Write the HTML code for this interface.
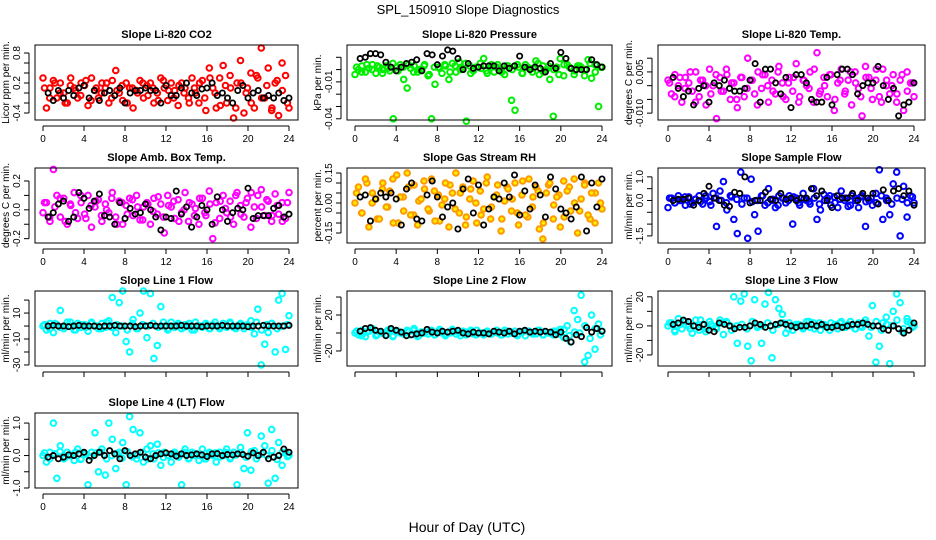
<!DOCTYPE html>
<html><head><meta charset="utf-8"><style>
body{margin:0;background:#fff;}
svg{display:block;font-family:"Liberation Sans",sans-serif;}
</style></head><body>
<svg id="chart" width="936" height="540" viewBox="0 0 936 540">
<rect width="936" height="540" fill="#fff"/>
<text x="468" y="14" text-anchor="middle" font-size="13">SPL_150910  Slope Diagnostics</text>
<text x="467" y="532" text-anchor="middle" font-size="14">Hour of Day (UTC)</text>
</svg>
<script>
const xTicks = [0,4,8,12,16,20,24];
const co2Color = [0.3,-0.3,0.1,0.25,-0.1,0.2,0.0,-0.2,0.3,0.1,-0.1,0.2,0.15,-0.25,0.3,0.05,-0.1,0.2,0.1,-0.2,0.25,0.45,0.0,-0.15,0.2,0.1,-0.3,0.05,0.25,-0.1,0.15,0.2,-0.2,0.0,0.3,0.1,-0.15,0.2,0.05,-0.25,0.2,0.1,-0.1,0.3,0.0,-0.2,0.25,-0.35,0.5,0.1,-0.3,0.3,0.55,-0.2,0.35,-0.5,0.2,0.65,-0.4,0.1,0.4,-0.3,0.3,0.9,-0.1,0.5,-0.35,0.2,-0.45,0.6,0.35,-0.3];
const co2Core = [0.1,-0.1,0.2,0.0,-0.2,0.15,0.05,-0.05,0.25,-0.15,0.1,0.0,0.2,-0.1,0.05,0.15,-0.2,0.1,0.0,0.2,-0.05,0.1,-0.15,0.25,0.05,-0.1,0.15,0.0,-0.2,0.1,0.2,-0.1,0.3,0.0,-0.25,0.15,0.1,-0.3,0.2,0.0,-0.2,0.35,-0.1,0.15,-0.3,0.25,0.05,-0.2];
const co2Black = [0.0,-0.15,0.05,-0.1,0.05,-0.05,0.1,0.15,-0.1,0.05,-0.15,0.0,0.05,-0.05,0.1,-0.2,0.0,0.05,0.05,0.1,0.05,0.05,-0.2,0.15,-0.05,-0.05,0.1,0.2,0.0,-0.05,0.08,0.1,0.2,-0.05,0.0,-0.1,-0.2,0.05,0.15,-0.1,0.0,0.05,-0.1,-0.05,-0.1,0.0,-0.15,-0.1];
const presColor = [-0.004,0.0,0.003,-0.002,0.001,0.004,-0.003,0.002,0.0,0.003,-0.001,-0.040,0.002,0.004,-0.008,-0.015,0.001,0.003,-0.002,0.0,0.004,-0.005,-0.040,-0.012,0.002,-0.003,0.003,-0.008,0.005,-0.002,0.006,0.001,-0.042,0.003,-0.001,0.002,0.005,0.009,-0.003,0.002,-0.002,0.004,0.000,-0.004,0.003,-0.025,-0.033,0.002,-0.003,0.004,0.001,-0.002,0.007,-0.004,0.003,0.000,-0.008,-0.038,0.002,0.009,-0.005,0.004,0.001,-0.004,0.003,0.002,-0.005,0.008,-0.007,0.004,-0.030,0.002];
const presCore = [0.002,-0.002,0.004,0.000,0.003,-0.003,0.001,0.005,-0.001,0.002,0.004,-0.002,0.000,0.003,-0.004,0.002,0.001,0.004,-0.002,0.003,0.000,0.005,-0.003,0.002,0.001,-0.001,0.004,0.002,-0.002,0.003,0.000,0.004,-0.003,0.002,0.001,0.005,-0.002,0.003,0.000,-0.004,0.004,0.002,-0.001,0.003,0.000,0.005,-0.002,0.002];
const presBlack = [0.009,0.010,0.013,0.013,0.012,0.006,0.002,-0.001,0.002,0.005,0.006,0.008,-0.001,0.013,0.012,0.004,0.011,0.016,0.015,0.009,0.000,0.005,0.001,0.002,0.003,0.003,0.003,-0.001,0.003,0.001,0.003,0.011,0.002,0.000,0.002,0.001,-0.002,0.005,0.001,0.014,0.009,0.001,0.000,0.000,0.000,0.008,0.004,0.002];
const tempColor = [0.002,-0.003,0.004,0.000,-0.006,0.003,0.001,-0.002,0.005,-0.004,0.002,-0.007,0.006,0.000,-0.012,0.003,-0.002,0.004,-0.005,0.001,-0.008,0.003,-0.004,0.010,0.002,-0.003,0.005,-0.001,0.004,-0.006,0.002,-0.003,0.007,0.001,-0.005,0.003,-0.002,0.008,-0.004,0.002,0.000,0.005,-0.006,0.012,-0.002,0.003,-0.004,0.004,-0.009,0.001,0.006,-0.003,0.002,-0.007,0.005,-0.001,-0.011,0.007,0.003,-0.005,0.002,-0.004,0.006,0.000,-0.003,0.004,-0.006,0.002,-0.009,0.005,0.001,-0.004];
const tempCore = [0.001,-0.004,0.003,-0.001,0.005,-0.006,0.002,0.000,-0.003,0.004,-0.002,0.006,0.001,-0.005,0.003,-0.001,0.002,-0.007,0.004,0.000,-0.002,0.005,-0.004,0.001,0.003,-0.006,0.002,-0.001,0.006,-0.003,0.000,0.004,-0.005,0.002,-0.002,0.005,0.001,-0.004,0.003,-0.001,0.006,-0.006,0.002,0.000,-0.003,0.004,-0.002,0.001];
const tempBlack = [0.003,-0.001,-0.004,-0.002,-0.007,-0.001,0.000,-0.006,0.001,0.000,0.002,-0.001,-0.002,-0.002,-0.001,0.002,0.008,-0.006,0.006,0.006,0.001,-0.003,0.003,-0.008,0.004,0.004,0.001,-0.005,-0.006,-0.006,0.003,-0.007,0.004,0.006,0.006,0.004,-0.003,0.000,0.001,0.001,0.007,0.000,-0.005,-0.001,-0.011,-0.007,-0.006,0.001];
const ambColor = [-0.02,0.05,-0.08,0.28,0.1,-0.05,0.08,-0.1,0.03,0.12,-0.06,0.05,-0.03,0.1,-0.12,0.02,0.07,-0.08,0.04,-0.02,0.12,-0.05,0.06,-0.1,0.03,0.08,-0.04,0.1,-0.07,0.02,0.05,-0.1,0.08,-0.03,0.04,-0.16,0.1,0.02,-0.06,0.07,-0.02,0.12,-0.08,0.04,0.01,-0.1,0.08,-0.04,0.13,-0.2,0.05,-0.06,0.1,-0.02,0.06,-0.1,0.12,0.03,-0.05,0.08,-0.12,0.02,0.1,0.14,-0.04,0.06,-0.08,0.11,-0.03,0.05,-0.06,0.12];
const ambCore = [0.05,-0.05,0.02,0.08,-0.08,0.04,-0.02,0.1,-0.06,0.03,0.06,-0.04,0.0,0.08,-0.1,0.05,-0.03,0.07,0.02,-0.07,0.04,-0.01,0.09,-0.05,0.03,0.06,-0.08,0.0,0.05,-0.04,0.08,-0.02,0.04,-0.09,0.06,0.01,-0.05,0.1,-0.03,0.05,0.12,-0.06,0.02,0.07,-0.04,0.03,-0.08,0.05];
const ambBlack = [-0.05,-0.02,0.04,0.06,-0.08,-0.05,0.12,0.08,0.01,0.06,0.11,-0.04,-0.05,-0.1,0.05,-0.06,0.01,-0.03,-0.02,0.04,0.0,-0.05,-0.14,-0.05,-0.06,0.13,-0.03,0.02,-0.12,-0.05,0.03,0.0,-0.1,0.09,0.0,-0.08,-0.02,0.01,0.0,0.15,-0.06,-0.04,-0.04,-0.04,0.01,0.03,-0.05,-0.03];
const rhColor = [0.0,0.08,-0.05,0.12,-0.12,0.05,0.02,-0.08,0.1,-0.02,0.06,-0.1,0.14,0.03,-0.04,0.15,-0.06,0.09,-0.11,0.02,0.07,-0.03,0.12,-0.09,0.04,-0.01,0.1,-0.12,0.05,0.15,-0.05,0.08,-0.07,0.02,0.11,-0.1,0.06,-0.03,0.13,-0.08,0.03,0.09,-0.14,0.01,0.07,-0.04,0.1,-0.11,0.04,-0.06,0.12,-0.02,0.08,-0.13,-0.18,0.05,0.1,-0.08,0.03,-0.12,0.11,0.06,-0.04,0.12,-0.15,0.02,0.09,-0.06,0.05,-0.1,0.1,-0.03];
const rhCore = [0.05,-0.05,0.1,0.0,-0.08,0.07,-0.02,0.12,-0.1,0.03,0.08,-0.06,0.01,0.11,-0.04,0.06,-0.09,0.02,0.09,-0.03,0.05,-0.11,0.07,0.0,-0.06,0.1,-0.02,0.04,-0.08,0.08,0.02,-0.05,0.11,-0.07,0.03,0.06,-0.1,0.09,-0.01,0.04,-0.07,0.08,0.0,-0.04,0.1,-0.08,0.05,0.0];
const rhBlack = [0.03,0.04,-0.09,0.02,0.05,0.03,0.05,0.02,-0.11,0.07,0.1,-0.08,-0.09,0.04,0.11,0.03,-0.07,-0.02,0.0,-0.13,0.07,0.12,-0.05,0.09,-0.11,-0.03,0.03,0.02,0.1,0.03,0.14,-0.06,0.06,-0.03,0.09,0.04,-0.07,0.13,0.07,-0.03,-0.05,-0.08,-0.02,0.13,-0.14,0.1,-0.02,0.12];
const flowColor = [-0.3,0.1,-0.1,0.2,0.0,-0.2,0.15,-0.1,0.05,0.2,-0.15,0.1,-0.05,0.3,-1.1,0.4,0.8,-0.4,0.2,-0.8,-1.4,1.2,0.1,-1.6,0.9,-0.6,-1.3,0.2,-0.2,0.5,0.0,-0.3,0.2,0.1,-0.1,0.2,-1.0,0.1,-0.2,0.3,0.0,-0.15,0.5,-0.8,-0.4,0.25,0.1,-0.2,0.15,-0.3,0.4,0.0,-0.25,0.2,0.1,-0.3,0.2,-1.1,0.0,-0.2,0.3,1.3,-0.8,0.1,-0.6,0.7,1.2,-1.5,0.6,-0.7,0.2,-0.1];
const flowCore = [0.1,-0.1,0.0,0.15,-0.15,0.05,-0.05,0.2,-0.2,0.1,0.0,-0.1,0.15,0.05,-0.15,0.1,-0.05,0.0,0.2,-0.1,0.05,-0.2,0.1,0.0,0.15,-0.1,0.05,-0.05,0.1,-0.15,0.0,0.2,-0.1,0.05,0.1,-0.2,0.0,0.15,-0.05,0.1,-0.1,0.2,0.0,-0.15,0.1,0.05,-0.1,0.15];
const flowBlack = [0.0,0.05,0.05,0.1,-0.2,0.0,0.3,0.6,0.1,0.0,-0.2,-0.25,0.35,0.3,1.0,-0.1,0.0,0.0,0.35,0.05,0.0,0.3,0.05,0.1,0.0,0.1,0.1,0.5,0.2,0.4,0.0,-0.3,0.2,0.1,0.1,0.3,0.0,0.3,0.1,0.3,-0.15,0.45,0.0,0.4,0.5,0.2,0.4,-0.2];
const line1Color = [0,-3,2,-5,1,12,-2,3,0,-3,2,-1,1,-4,3,0,-2,2,-1,4,22,-5,18,27,-12,-20,5,-2,10,27,-9,25,-25,-15,15,0,-3,3,-1,2,-2,1,0,-3,3,0,-1,2,-2,1,0,-2,2,-1,3,-1,0,2,-2,1,4,-6,13,-30,-14,-5,2,-20,20,25,-18,8];
const line1Core = [1,-2,2,-1,0,3,-3,1,-1,2,0,-2,3,-1,1,0,-3,2,-2,1,0,2,-1,3,-2,0,1,-1,2,-3,0,1,-2,3,-1,0,2,-2,1,0,-1,3,-3,1,2,-2,0,1];
const line1Black = [0,0.5,0,0,-0.5,0,0.5,0,0,0,-0.5,0,0,0.5,0,0,0,-0.5,0,0,0.5,0,0,0,0,0,0.5,0,0,0,-0.5,0,0,0,0.5,0,0,0,0,-0.5,0,0,0.5,0,0,0,0,0.5];
const line2Color = [0,-2,3,-4,2,5,-3,1,0,-2,4,-3,2,0,-1,3,-2,5,-4,1,0,-1,3,-2,2,0,-3,1,4,-1,0,2,-2,1,-1,3,0,-2,2,-1,1,0,-2,3,-1,0,2,-1,1,-3,2,0,-1,3,-2,1,0,-2,2,4,-5,8,-10,25,15,42,-32,-25,20,-18,10,2];
const line2Core = [2,-3,1,4,-2,0,3,-4,2,-1,1,3,-3,0,2,-2,4,-1,0,2,-3,1,3,-2,0,1,-1,3,-2,2,0,-3,1,2,-1,3,-2,0,2,-1,4,-3,1,0,8,-6,5,-2];
const line2Black = [2,5,6,3,2,-3,5,3,1,-3,-2,-1,0,4,1,0,2,1,2,3,0,-1,1,0,0,-1,2,1,0,2,-1,2,3,1,2,1,2,1,-2,1,-6,-10,-2,-4,6,1,5,2];
const line3Color = [0,2,-4,5,-2,3,0,-5,4,-3,1,-2,3,0,-2,4,-6,2,0,20,-12,17,22,-14,-24,18,0,-12,15,23,-22,18,12,8,-5,2,-3,1,0,-2,3,-1,2,0,-3,1,-1,2,0,-2,3,-1,1,0,-2,2,-1,4,-7,14,-25,-14,2,6,-26,10,22,16,-2,5,2,0];
const line3Core = [2,-3,1,3,-2,0,4,-4,1,-1,2,3,-3,0,1,-2,3,-1,0,2,-3,1,2,-2,0,1,-1,3,-2,2,0,-3,1,2,-1,3,-2,0,2,-1,3,-3,1,0,4,-4,3,-1];
const line3Black = [1,2,4,3,0,-1,1,-3,-4,2,1,0,-2,-1,-1,0,2,1,-1,0,1,2,1,0,-1,0,0,1,0,1,-1,-1,0,-1,0,1,1,2,1,0,0,-2,-3,0,-2,-5,-3,2];
const line4Color = [0.0,-0.2,0.1,1.0,-0.7,0.3,-0.1,0.1,0.0,-0.15,0.2,-0.1,0.05,-0.9,0.1,0.7,-0.5,0.2,-0.6,1.0,0.5,-0.4,0.1,0.4,-0.9,1.2,0.8,-0.1,0.7,-0.2,0.2,0.3,-0.1,0.35,-0.3,0.1,0.0,-0.2,0.1,0.0,-0.9,0.2,-0.1,0.1,0.0,-0.15,0.2,-0.1,0.1,0.0,-0.2,0.1,0.0,0.2,-0.1,0.1,-0.9,0.25,-0.4,0.7,-0.45,0.15,0.0,0.6,0.3,-0.85,0.8,-0.7,0.4,-0.3,0.1,0.0];
const line4Core = [0.08,-0.1,0.05,0.12,-0.06,0.0,0.1,-0.12,0.04,-0.03,0.08,0.1,-0.1,0.0,0.06,-0.08,0.12,-0.04,0.02,0.09,-0.1,0.05,0.08,-0.06,0.0,0.04,-0.05,0.1,-0.08,0.06,0.0,-0.1,0.05,0.08,-0.04,0.1,-0.07,0.02,0.09,-0.05,0.12,-0.1,0.05,0.0,0.15,-0.12,0.1,-0.03];
const line4Black = [-0.05,0.0,-0.1,-0.05,0.02,0.0,0.05,0.1,-0.15,0.0,0.1,0.0,0.15,0.05,-0.1,0.15,0.0,0.05,0.1,-0.05,-0.1,0.0,0.05,0.08,0.05,-0.02,0.05,0.0,0.02,0.05,0.02,-0.03,0.05,0.06,0.0,0.03,0.02,0.05,0.03,-0.02,0.08,0.0,0.1,-0.1,-0.05,0.0,0.2,0.1];

const NS = "http://www.w3.org/2000/svg";
const svg = document.getElementById('chart');
const cols = [{L:35,R:298,x0:43,x24:289},{L:347,R:612,x0:355,x24:602},{L:658,R:925,x0:668,x24:914}];
const rowTops = [45,168,291,413];
const H = 75;

function mk(tag, attrs, parent){
  const e = document.createElementNS(NS, tag);
  for (const k in attrs) e.setAttribute(k, attrs[k]);
  (parent||svg).appendChild(e);
  return e;
}

function panel(p){
  const c = cols[p.col], top = rowTops[p.row], bot = top + H;
  const g = mk('g', {});
  
  
  const xs = h => c.x0 + h * (c.x24 - c.x0) / 24;
  const ys = v => top + (p.ymax - v) / (p.ymax - p.ymin) * H;
  const t = mk('text', {x:(c.L+c.R)/2, y:top-7, 'text-anchor':'middle', 'font-size':11, 'font-weight':'bold'}, g);
  t.textContent = p.title;
  
  
  const cm = p.core.length;
  p.core.forEach((v, i) => {
    const cc = mk('circle', {cx:xs(0.15 + i*23.7/(cm-1)), cy:ys(v), r:2.8, fill:p.fill||'none', stroke:p.stroke, 'stroke-width':2}, g);
    
    
  });
  const n = p.color.length;
  p.color.forEach((v, i) => {
    const cc = mk('circle', {cx:xs(i*24/(n-1)), cy:ys(v), r:2.8, fill:p.fill||'none', stroke:p.stroke, 'stroke-width':2}, g);
    
    
  });
  const m = p.black.length;
  p.black.forEach((v, i) => {
    const cc = mk('circle', {cx:xs(0.5 + i*23.5/(m-1)), cy:ys(v), r:2.6, fill:'none', stroke:'#000', 'stroke-width':1.8}, g);
    
    
  });
  const box = mk('rect', {x:c.L, y:top, width:c.R-c.L, height:H, fill:'none', stroke:'#000', 'stroke-width':1}, g);
  
  
  mk('line', {x1:xs(0), x2:xs(24), y1:bot+6, y2:bot+6, stroke:'#000'}, g);
  xTicks.forEach(h => {
    mk('line', {x1:xs(h), x2:xs(h), y1:bot+6, y2:bot+11, stroke:'#000'}, g);
    if (p.xlabels) {
      const tl = mk('text', {x:xs(h), y:bot+22, 'text-anchor':'middle', 'font-size':10}, g);
      tl.textContent = h;
      
      
    }
  });
  const ax = c.L - 6;
  mk('line', {x1:ax, x2:ax, y1:ys(p.ticks[0]), y2:ys(p.ticks[p.ticks.length-1]), stroke:'#000'}, g);
  p.ticks.forEach(v => mk('line', {x1:ax-5, x2:ax, y1:ys(v), y2:ys(v), stroke:'#000'}, g));
  p.labels.forEach((s, i) => {
    const yy = ys(p.labelVals[i]), xx = c.L - 15;
    const tl = mk('text', {x:xx, y:yy, 'text-anchor':'middle', 'font-size':10, transform:`rotate(-90 ${xx} ${yy})`}, g);
    tl.textContent = s;
    
    
  });
  const yx = c.L - 26, yy = top + H/2;
  const yt = mk('text', {x:yx, y:yy, 'text-anchor':'middle', 'font-size':10, transform:`rotate(-90 ${yx} ${yy})`}, g);
  yt.textContent = p.ytitle;
  
  
}

panel({name:'co2', title:'Slope Li-820 CO2', col:0, row:0, ymin:-0.54, ymax:0.96, color:co2Color, core:co2Core, black:co2Black, stroke:'#ff0000', ticks:[-0.4,-0.2,0,0.2,0.4,0.6,0.8], labelVals:[-0.4,0.2,0.8], labels:['-0.4','0.2','0.8'], ytitle:'Licor ppm per min.', xlabels:true});
panel({name:'pressure', title:'Slope Li-820 Pressure', col:1, row:0, ymin:-0.041, ymax:0.02, color:presColor, core:presCore, black:presBlack, stroke:'#00ee00', ticks:[-0.04,-0.03,-0.02,-0.01,0,0.01], labelVals:[-0.04,-0.01], labels:['-0.04','-0.01'], ytitle:'kPa per min.', xlabels:true});
panel({name:'temp', title:'Slope Li-820 Temp.', col:2, row:0, ymin:-0.0125, ymax:0.0148, color:tempColor, core:tempCore, black:tempBlack, stroke:'#ff00ff', ticks:[-0.01,-0.005,0,0.005,0.01], labelVals:[-0.01,0.005], labels:['-0.010','0.005'], ytitle:'degrees C per min.', xlabels:true});
panel({name:'amb-box-temp', title:'Slope Amb. Box Temp.', col:0, row:1, ymin:-0.23, ymax:0.29, color:ambColor, core:ambCore, black:ambBlack, stroke:'#ff00ff', ticks:[-0.2,-0.1,0,0.1,0.2], labelVals:[-0.2,0,0.2], labels:['-0.2','0.0','0.2'], ytitle:'degrees C per min.', xlabels:true});
panel({name:'gas-rh', title:'Slope Gas Stream RH', col:1, row:1, ymin:-0.2, ymax:0.175, color:rhColor, core:rhCore, black:rhBlack, stroke:'#ff9900', fill:'#ffee00', ticks:[-0.15,-0.1,-0.05,0,0.05,0.1,0.15], labelVals:[-0.15,0,0.15], labels:['-0.15','0.00','0.15'], ytitle:'percent per min.', xlabels:true});
panel({name:'sample-flow', title:'Slope Sample Flow', col:2, row:1, ymin:-1.8, ymax:1.375, color:flowColor, core:flowCore, black:flowBlack, stroke:'#0000ff', ticks:[-1.5,-1,-0.5,0,0.5,1], labelVals:[-1.5,0,1], labels:['-1.5','0.0','1.0'], ytitle:'ml/min per min.', xlabels:true});
panel({name:'line1-flow', title:'Slope Line 1 Flow', col:0, row:2, ymin:-30.8, ymax:27, color:line1Color, core:line1Core, black:line1Black, stroke:'#00ffff', ticks:[-30,-20,-10,0,10,20], labelVals:[-30,-10,10], labels:['-30','-10','10'], ytitle:'ml/min per min.', xlabels:false});
panel({name:'line2-flow', title:'Slope Line 2 Flow', col:1, row:2, ymin:-36.7, ymax:46.7, color:line2Color, core:line2Core, black:line2Black, stroke:'#00ffff', ticks:[-20,0,20,40], labelVals:[-20,20], labels:['-20','20'], ytitle:'ml/min per min.', xlabels:false});
panel({name:'line3-flow', title:'Slope Line 3 Flow', col:2, row:2, ymin:-27.6, ymax:24, color:line3Color, core:line3Core, black:line3Black, stroke:'#00ffff', ticks:[-20,-10,0,10,20], labelVals:[-20,0,20], labels:['-20','0','20'], ytitle:'ml/min per min.', xlabels:false});
panel({name:'line4-flow', title:'Slope Line 4 (LT) Flow', col:0, row:3, ymin:-1.0, ymax:1.31, color:line4Color, core:line4Core, black:line4Black, stroke:'#00ffff', ticks:[-1,-0.5,0,0.5,1], labelVals:[-1,0,1], labels:['-1.0','0.0','1.0'], ytitle:'ml/min per min.', xlabels:true});
</script>
</body></html>
